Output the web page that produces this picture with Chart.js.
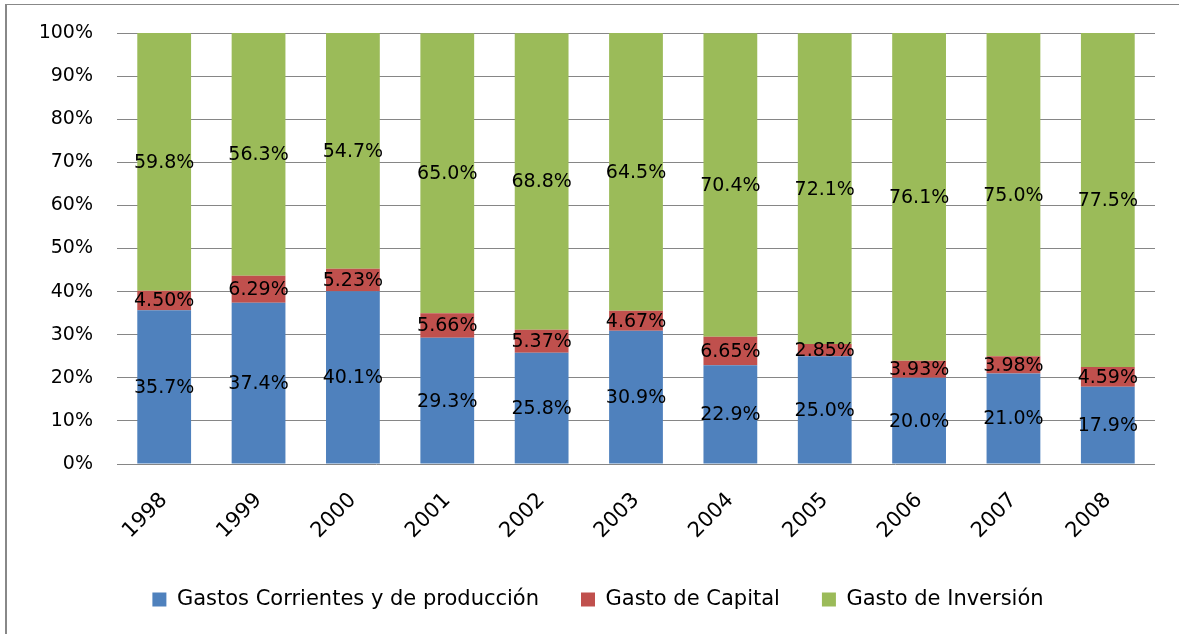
<!DOCTYPE html>
<html>
<head>
<meta charset="utf-8">
<script src="https://cdn.jsdelivr.net/npm/chart.js@4"></script>
<style>
  html, body { margin: 0; padding: 0; background: #fff; }
  #frame {
    position: absolute;
    left: 5px;
    top: 4px;
    width: 1174px;
    height: 630px;
    border-top: 1px solid #888;
    border-left: 2px solid #888;
    box-sizing: border-box;
  }
  #wrap { position: absolute; left: 0; top: 0; width: 1179px; height: 634px; }
</style>
</head>
<body>
<div id="frame"></div>
<div id="wrap"><canvas id="chart"></canvas></div>
<script>
const years = ["1998", "1999", "2000", "2001", "2002", "2003", "2004", "2005", "2006", "2007", "2008"];
const corrientes = [35.7, 37.4, 40.1, 29.3, 25.8, 30.9, 22.9, 25.0, 20.0, 21.0, 17.9];
const capital = [4.50, 6.29, 5.23, 5.66, 5.37, 4.67, 6.65, 2.85, 3.93, 3.98, 4.59];
const inversion = [59.8, 56.3, 54.7, 65.0, 68.8, 64.5, 70.4, 72.1, 76.1, 75.0, 77.5];
const yTicks = [0, 10, 20, 30, 40, 50, 60, 70, 80, 90, 100];

const fontFamily = "'DejaVu Sans', sans-serif";

// values shown with one decimal, capital share with two
const labelDigits = [1, 2, 1];

const segmentLabels = {
  id: "segmentLabels",
  afterDatasetsDraw(chart) {
    const ctx = chart.ctx;
    ctx.save();
    ctx.font = `19px ${fontFamily}`;
    ctx.fillStyle = "#000";
    ctx.textAlign = "center";
    ctx.textBaseline = "middle";
    chart.data.datasets.forEach((ds, di) => {
      const meta = chart.getDatasetMeta(di);
      meta.data.forEach((bar, i) => {
        const y = (bar.y + bar.base) / 2;
        ctx.fillText(ds.data[i].toFixed(labelDigits[di]) + "%", bar.x, y + 1);
      });
    });
    ctx.restore();
  },
};

new Chart(document.getElementById("chart"), {
  type: "bar",
  data: {
    labels: years,
    datasets: [
      { label: "Gastos Corrientes y de producción", data: corrientes, backgroundColor: "#4F81BD" },
      { label: "Gasto de Capital", data: capital, backgroundColor: "#C0504D" },
      { label: "Gasto de Inversión", data: inversion, backgroundColor: "#9BBB59" },
    ],
  },
  options: {
    responsive: true,
    maintainAspectRatio: false,
    animation: false,
    datasets: { bar: { categoryPercentage: 1, barPercentage: 0.57, borderWidth: 0, inflateAmount: 0 } },
    layout: { padding: { left: 41, right: 24, top: 33, bottom: 14 } },
    plugins: {
      tooltip: { enabled: false },
      legend: {
        position: "bottom",
        labels: {
          font: { family: fontFamily, size: 21 },
          color: "#000",
          boxWidth: 14,
          boxHeight: 14,
          padding: 42,
        },
      },
    },
    scales: {
      x: {
        stacked: true,
        grid: { display: false, drawTicks: false },
        border: { display: false },
        ticks: {
          color: "#000",
          font: { family: fontFamily, size: 21 },
          maxRotation: 45,
          minRotation: 45,
          padding: 24,
        },
        afterFit: (scale) => { scale.height = 83; },
      },
      y: {
        stacked: true,
        min: 0,
        max: 100,
        afterBuildTicks: (scale) => { scale.ticks = yTicks.map((v) => ({ value: v })); },
        grid: { color: "#868686", lineWidth: 1, drawTicks: false },
        border: { display: false },
        ticks: {
          color: "#000",
          // small lineHeight so the tick padding does not push the plot top down
          font: { family: fontFamily, size: 19, lineHeight: 0.6 },
          padding: 24,
          callback: (v) => v + "%",
        },
        afterFit: (scale) => { scale.width = 76; },
      },
    },
  },
  plugins: [segmentLabels],
});
</script>
</body>
</html>
